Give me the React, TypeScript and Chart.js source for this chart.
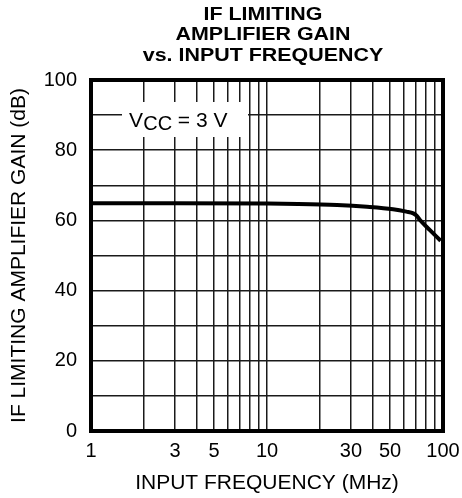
import React, { useEffect, useRef } from 'react';
import { Chart, registerables } from 'chart.js';

Chart.register(...registerables);

// ---- data ----
const frequencyMHz = [1, 3, 10, 15, 25, 37, 52, 62, 67.8, 71, 74, 84, 97];
const gainDb = [64.9, 64.9, 64.8, 64.7, 64.4, 63.9, 63.2, 62.5, 62.0, 61.3, 60.1, 57.3, 54.2];
const xGridValues = [1, 2, 3, 4, 5, 6, 7, 8, 9, 10, 20, 30, 40, 50, 60, 70, 80, 90, 100];
const xTickLabels = [1, 3, 5, 10, 30, 50, 100];
const yTickLabels = [0, 20, 40, 60, 80, 100];
const titleLines = ['IF LIMITING', 'AMPLIFIER GAIN', 'vs. INPUT FREQUENCY'];
const xAxisTitle = 'INPUT FREQUENCY (MHz)';
const yAxisTitle = 'IF LIMITING AMPLIFIER GAIN (dB)';

const FONT = '"Liberation Sans", Arial, Helvetica, sans-serif';

const decorPlugin = {
  id: 'decor',
  afterDatasetsDraw(chart: any) {
    const { ctx, chartArea } = chart;
    const { left, right, top, bottom } = chartArea;
    ctx.save();
    // VCC label box
    ctx.fillStyle = '#fff';
    ctx.fillRect(122, 102, 126, 35);
    ctx.fillStyle = '#000';
    ctx.textAlign = 'left';
    ctx.textBaseline = 'alphabetic';
    ctx.font = `21px ${FONT}`;
    ctx.fillText('V', 129, 126.7);
    ctx.font = `20px ${FONT}`;
    ctx.fillText('CC', 143.3, 130);
    ctx.font = `21px ${FONT}`;
    ctx.fillText(' = 3 V', 172, 126.7);
    // frame
    ctx.strokeStyle = '#000';
    ctx.lineWidth = 4;
    ctx.strokeRect(left, top, right - left, bottom - top);
    ctx.restore();
  },
  afterDraw(chart: any) {
    const { ctx } = chart;
    ctx.save();
    ctx.fillStyle = '#000';
    ctx.textAlign = 'center';
    ctx.textBaseline = 'alphabetic';
    ctx.font = `bold 18px ${FONT}`;
    const baselines = [19.5, 40.3, 61];
    titleLines.forEach((line, i) => {
      ctx.save();
      ctx.translate(263, baselines[i]);
      ctx.scale(1.19, 1);
      ctx.fillText(line, 0, 0);
      ctx.restore();
    });
    ctx.restore();
  },
};

export default function App() {
  const canvasRef = useRef<HTMLCanvasElement | null>(null);

  useEffect(() => {
    const canvas = canvasRef.current;
    if (!canvas) return;
    const chart = new Chart(canvas, {
      type: 'line',
      data: {
        datasets: [
          {
            data: frequencyMHz.map((x, i) => ({ x, y: gainDb[i] })),
            borderColor: '#000',
            borderWidth: 4,
            pointRadius: 0,
            cubicInterpolationMode: 'monotone',
            fill: false,
          },
        ],
      },
      options: {
        animation: false,
        responsive: true,
        maintainAspectRatio: false,
        devicePixelRatio: 1,
        layout: { padding: { top: 80, right: 19, left: 0, bottom: 0 } },
        plugins: {
          legend: { display: false },
          tooltip: { enabled: false },
          title: { display: false },
        },
        scales: {
          x: {
            type: 'logarithmic',
            min: 1,
            max: 100,
            afterBuildTicks: (s: any) => {
              s.ticks = xGridValues.map((v) => ({ value: v }));
            },
            afterFit: (s: any) => {
              s.height = 67;
              s.paddingLeft = 0;
              s.paddingRight = 0;
            },
            grid: { color: '#1a1a1a', lineWidth: 1.5, drawTicks: false },
            border: { display: false },
            ticks: {
              autoSkip: false,
              maxRotation: 0,
              minRotation: 0,
              padding: 8,
              color: '#000',
              font: { family: FONT, size: 20 },
              callback: (v: any) => {
                const n = Number(v);
                return xTickLabels.some((t) => Math.abs(t - n) < 1e-6) ? String(n) : '';
              },
            },
            title: {
              display: true,
              text: xAxisTitle,
              color: '#000',
              font: { family: FONT, size: 21 },
              padding: { top: 0, bottom: 2 },
            },
          },
          y: {
            type: 'linear',
            min: 0,
            max: 100,
            afterFit: (s: any) => {
              s.width = 91;
              s.paddingTop = 0;
              s.paddingBottom = 0;
            },
            grid: { color: '#1a1a1a', lineWidth: 1.5, drawTicks: false },
            border: { display: false },
            ticks: {
              stepSize: 10,
              padding: 14,
              color: '#000',
              font: { family: FONT, size: 20 },
              callback: (v: any) => (yTickLabels.includes(Number(v)) ? String(v) : ''),
            },
            title: {
              display: true,
              text: yAxisTitle,
              color: '#000',
              font: { family: FONT, size: 21 },
              padding: { top: 7, bottom: 0 },
            },
          },
        },
      },
      plugins: [decorPlugin],
    } as any);
    return () => chart.destroy();
  }, []);

  return (
    <div style={{ position: 'fixed', left: 0, top: 0, width: 462, height: 498, background: '#fff' }}>
      <canvas ref={canvasRef} />
    </div>
  );
}
